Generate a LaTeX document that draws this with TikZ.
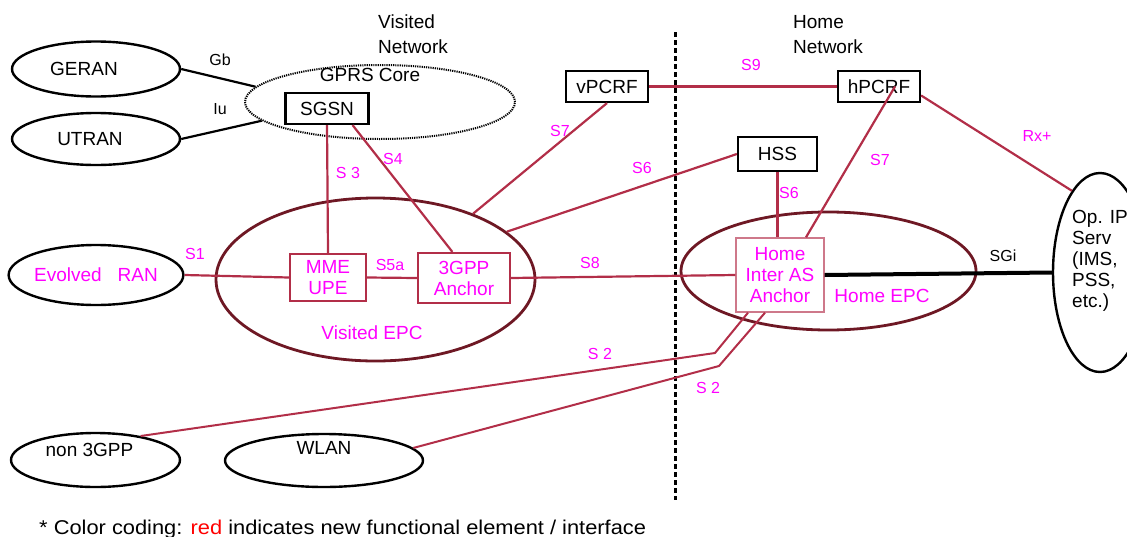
\documentclass[tikz,border=0pt]{standalone}
\usepackage{fontspec}
\setmainfont{Liberation Sans}
\usetikzlibrary{shapes.geometric}
\definecolor{ifred}{RGB}{178,46,72}
\definecolor{epcred}{RGB}{110,24,36}
\definecolor{newmag}{RGB}{255,0,255}
\definecolor{homebox}{RGB}{206,120,138}
\begin{document}
\begin{tikzpicture}[x=1pt,y=-1pt,font=\fontsize{19}{21}\selectfont]
	\tikzstyle{NE}=[draw=black,line width=2.2pt,inner sep=0pt]
	\tikzstyle{RE}=[draw=ifred,line width=2.2pt,inner sep=0pt,text=newmag,align=center]
	\tikzstyle{AN}=[ellipse,draw=black,line width=2.4pt,inner sep=0pt]
	\tikzstyle{EPC}=[ellipse,draw=epcred,line width=2.8pt,inner sep=0pt]
	\tikzstyle{IF}=[font=\fontsize{16}{18}\selectfont,text=newmag]
	\tikzstyle{NW}=[anchor=north west,align=left,inner sep=0pt,font=\fontsize{19}{25}\selectfont]
	\useasboundingbox (0,0) rectangle (1127,536);
	
	% visited network
	\node[NW] (vnet) at (378,15) {Visited\\Network};
	\node[AN,minimum width=168pt,minimum height=55pt,label={[xshift=-12pt]center:GERAN}] (geran) at (96,69) {};
	\node[AN,minimum width=168pt,minimum height=52pt,label={[xshift=-6pt]center:UTRAN}] (utran) at (96,139) {};
	\node[ellipse,draw=black,line width=2pt,dash pattern=on 1.2pt off 1pt,minimum width=270pt,minimum height=74pt] (gprs) at (380,102) {};
	\node (gprslbl) at (370,75) {GPRS Core};
	\node[NE,minimum width=83pt,minimum height=31pt] (sgsn) at (327,108.5) {SGSN};
	\node[AN,minimum width=168pt,minimum height=60pt,text=newmag] (eran) at (96,275) {Evolved\ \ \ RAN};
	\node[EPC,minimum width=319pt,minimum height=163pt] (vepc) at (375.5,279.5) {};
	\node[text=newmag] (vepclbl) at (372,333) {Visited EPC};
	\node[RE,minimum width=76pt,minimum height=47pt] (mme) at (328,277.5) {MME\\UPE};
	\node[RE,minimum width=92pt,minimum height=50pt] (anch3) at (464,278) {3GPP\\Anchor};
	\node[NE,minimum width=82pt,minimum height=31pt] (vpcrf) at (607,86.5) {vPCRF};
	\node[AN,minimum width=169pt,minimum height=54pt,label={[xshift=-6pt,yshift=10pt]center:non 3GPP}] (n3gpp) at (95.5,460) {};
	\node[AN,minimum width=198pt,minimum height=53pt,label={[yshift=13pt]center:WLAN}] (wlan) at (324,460.5) {};
	
	% home network
	\node[NW] (hnet) at (793,15) {Home\\Network};
	\node[NE,minimum width=82pt,minimum height=31pt] (hpcrf) at (879,86.5) {hPCRF};
	\node[NE,minimum width=79pt,minimum height=34pt] (hss) at (777.5,154) {HSS};
	\node[EPC,minimum width=295pt,minimum height=118pt] (hepc) at (828.5,271) {};
	\node[text=newmag] (hepclbl) at (882,296) {Home EPC};
	\node[RE,draw=homebox,line width=1.4pt,fill=white,minimum width=88pt,minimum height=74pt] (hanchor) at (780,275) {Home\\Inter AS\\Anchor};
	\node[AN,minimum width=94pt,minimum height=199pt,label={[align=left,yshift=12pt]center:Op. IP\\Serv\\(IMS,\\PSS,\\etc.)}] (opip) at (1100,272.5) {};
	
	\coordinate (dtop) at (675,32);
	\coordinate (dbot) at (675,500);
	\coordinate (b1) at (715,353);
	\coordinate (b2) at (719,366);
	
	\draw[line width=3pt,dash pattern=on 5pt off 3pt] (dtop) -- (dbot);
	
	\path[black,line width=2.2pt]
	(geran.east) edge (gprs.173)
	(utran.east) edge (gprs.189)
	;
	\path[ifred,line width=2.2pt]
	(sgsn.south) edge (mme.north)
	(sgsn.-33) edge (anch3.114)
	(eran.east) edge (mme.west)
	(mme.east) edge (anch3.west)
	(anch3.east) edge (hanchor.west)
	(vpcrf.south) edge (vepc.34)
	(hss.west) edge (vepc.20)
	(vpcrf.east) edge (hpcrf.west)
	(hss.south) edge (hss.south |- hanchor.north)
	([xshift=16pt]hpcrf.center) edge ([xshift=26pt]hanchor.north)
	(hpcrf.-12) edge (opip.109)
	;
	\draw[ifred,line width=2pt] ([xshift=-32pt]hanchor.south) -- (b1) -- (n3gpp.28);
	\draw[ifred,line width=2pt] ([xshift=-15pt]hanchor.south) -- (b2) -- (wlan.8);
	\draw[black,line width=4pt] (hanchor.east) -- (opip.west);
	
	% interface names
	\node[IF,text=black] (gb) at (220,60) {Gb};
	\node[IF,text=black] (iu) at (220,109) {Iu};
	\node[IF] (s3) at (348,173) {S 3};
	\node[IF] (s4) at (393,159) {S4};
	\node[IF] (s1) at (195,254) {S1};
	\node[IF] (s5a) at (390,265) {S5a};
	\node[IF] (s7v) at (560,131) {S7};
	\node[IF] (s6v) at (642,168) {S6};
	\node[IF] (s8) at (590,263) {S8};
	\node[IF] (s9) at (751,65) {S9};
	\node[IF] (s6h) at (789,193) {S6};
	\node[IF] (s7h) at (880,160) {S7};
	\node[IF] (rx) at (1037,136) {Rx+};
	\node[IF,text=black] (sgi) at (1003,256) {SGi};
	\node[IF] (s2a) at (600,354) {S 2};
	\node[IF] (s2b) at (708,388) {S 2};
	
	\node[anchor=base west,inner sep=0pt] (note) at (39,534) {\scalebox{1.15}[1.05]{* Color coding: \textcolor{red}{red} indicates new functional element / interface}};
\end{tikzpicture}
\end{document}
